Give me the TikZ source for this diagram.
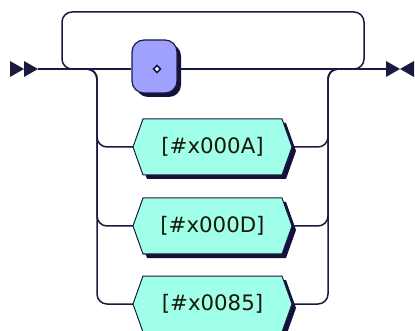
\documentclass[tikz,border=0pt]{standalone}
\usepackage{fontspec}
\setmainfont{DejaVu Sans}
\definecolor{wire}{RGB}{26,26,64}
\definecolor{shadowcol}{RGB}{20,16,60}
\definecolor{termfill}{RGB}{160,160,255}
\definecolor{charfill}{RGB}{160,255,232}
\definecolor{ink}{RGB}{24,24,8}
\tikzset{
  wireline/.style={draw=wire, line width=1.5pt, rounded corners=10pt},
  termbox/.style={fill=termfill, draw=wire, line width=1.2pt, rounded corners=12pt,
    minimum width=45pt, minimum height=53pt, inner sep=0pt},
  termshadow/.style={fill=shadowcol, rounded corners=12pt},
  charshadow/.style={fill=shadowcol},
  chartext/.style={text=ink, font=\fontsize{21.3}{25}\selectfont, inner sep=0pt},
  marker/.style={fill=wire},
}
% hexagonal character-class box: name, centre y, label
\newcommand\charbox[3]{%
  \path[charshadow] (137,#2+4) -- (147,#2-24) -- (286,#2-24) -- (296,#2+4) -- (286,#2+32) -- (147,#2+32) -- cycle;
  \filldraw[fill=charfill, draw=wire, line width=1pt]
    (133,#2) -- (143,#2-28) -- (282,#2-28) -- (292,#2) -- (282,#2+28) -- (143,#2+28) -- cycle;
  \node[chartext] (#1) at (212.5,#2) {#3};
  \coordinate (#1-w) at (133,#2);
  \coordinate (#1-e) at (292,#2);
}
\begin{document}
\begin{tikzpicture}[x=1pt,y=-1pt]
\useasboundingbox (0,0) rectangle (415,331);

% start and end markers
\fill[marker] (10,61) -- (24,69) -- (10,77) -- cycle;
\fill[marker] (24,61) -- (38,69) -- (24,77) -- cycle;
\coordinate (start) at (38,69);
\fill[marker] (386,61) -- (400,69) -- (386,77) -- cycle;
\fill[marker] (414,61) -- (400,69) -- (414,77) -- cycle;
\coordinate (end) at (386,69);

% empty-sequence box
\path[termshadow] (136,44) rectangle (181,97);
\node[termbox] (eps) at (154.5,66.5) {};
\coordinate (mark) at (157,69);
\draw[wire, line width=1.5pt, fill=white]
  ([yshift=-3.5pt]mark) -- ([xshift=3.5pt]mark) --
  ([yshift=3.5pt]mark) -- ([xshift=-3.5pt]mark) -- cycle;

% character boxes
\charbox{lf}{147}{[\#x000A]}
\charbox{cr}{226}{[\#x000D]}
\charbox{nel}{304}{[\#x0085]}

% branch points on the main line
\coordinate (splitL) at (87,69);
\coordinate (joinR) at (338,69);
\coordinate (loopL) at (72,69);
\coordinate (loopR) at (354,69);

% main line
\draw[wireline] (start) -- (start -| eps.west);
\draw[wireline] (end -| eps.east) -- (end);

% bypass over the top
\draw[wireline] (loopL) -- (62,69) -- (62,12) -- (364,12) -- (364,69) -- (loopR);

% alternatives below
\foreach \b in {lf,cr,nel}{
  \draw[wireline] (splitL) -- (97,69) |- (\b-w);
  \draw[wireline] (\b-e) -| (328,69) -- (joinR);
}
\end{tikzpicture}
\end{document}
